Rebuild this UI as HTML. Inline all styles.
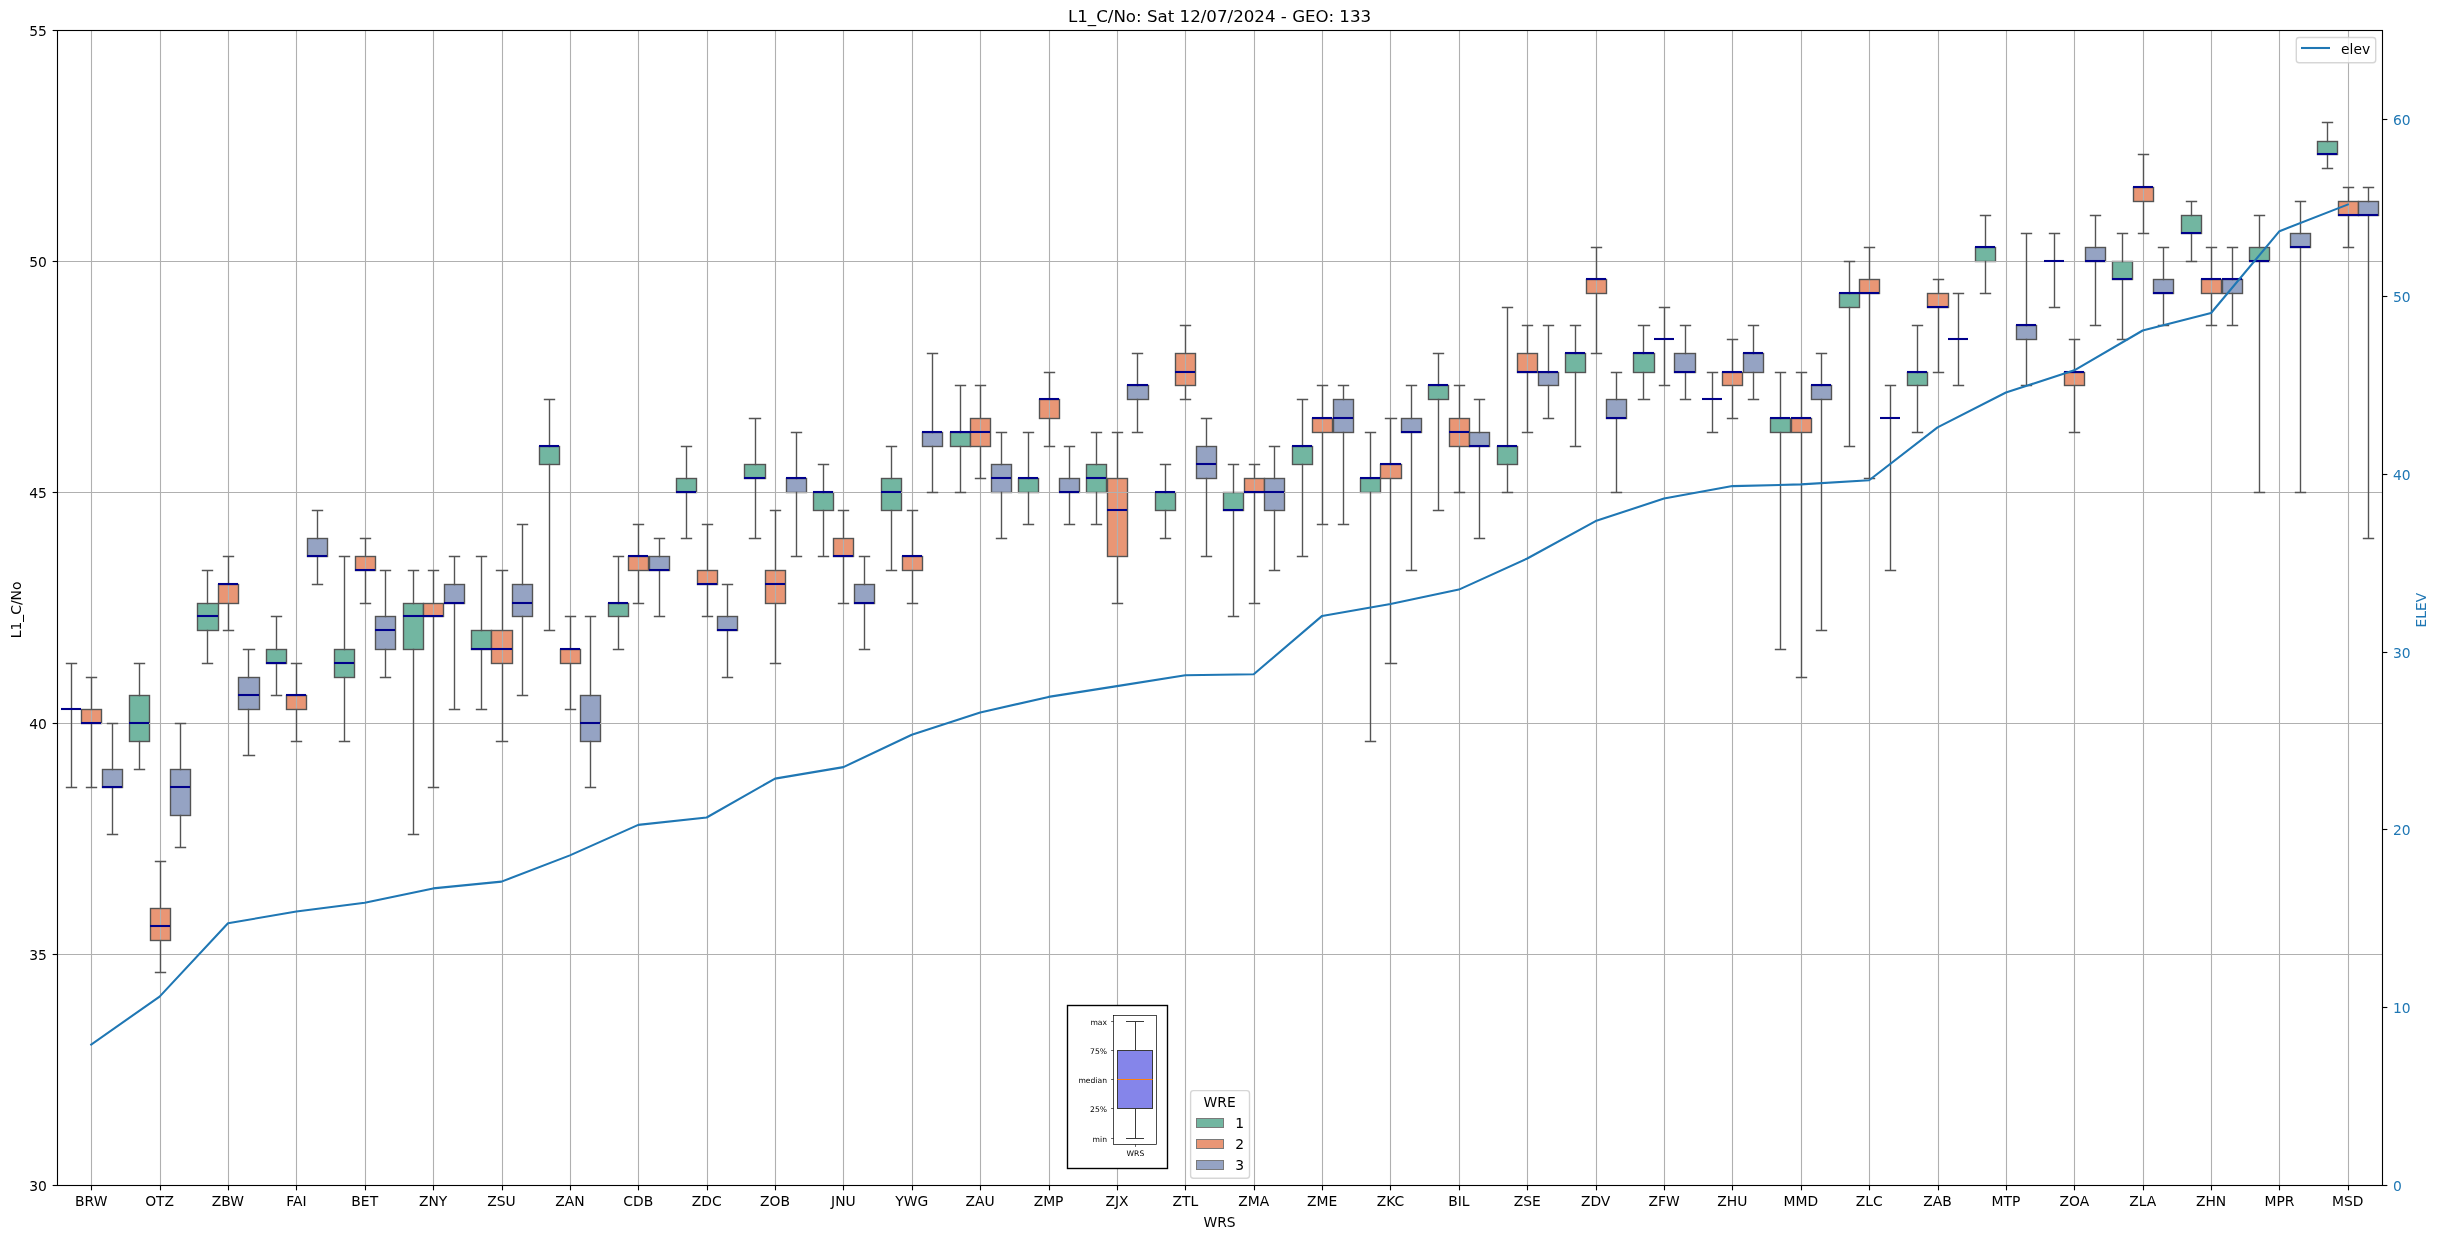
<!DOCTYPE html>
<html lang="en"><head><meta charset="utf-8"><title>L1_C/No: Sat 12/07/2024 - GEO: 133</title>
<style>html,body{margin:0;padding:0;background:#fff;}svg{display:block;will-change:transform;}text{font-family:'DejaVu Sans','Liberation Sans',sans-serif;fill:#000;}</style></head><body>
<svg width="2439" height="1238" viewBox="0 0 2439 1238">
<rect x="0" y="0" width="2439" height="1238" fill="#ffffff"/>
<g stroke="#545454" stroke-width="1.39" stroke-linejoin="miter">
<rect x="81.5" y="709.5" width="20" height="14" fill="#e99675"/>
<rect x="102.5" y="769.5" width="20" height="18" fill="#95a3c3"/>
<rect x="129.5" y="695.5" width="20" height="46" fill="#72b6a1"/>
<rect x="150.5" y="908.5" width="20" height="32" fill="#e99675"/>
<rect x="170.5" y="769.5" width="20" height="46" fill="#95a3c3"/>
<rect x="197.5" y="603.5" width="21" height="27" fill="#72b6a1"/>
<rect x="218.5" y="584.5" width="20" height="19" fill="#e99675"/>
<rect x="238.5" y="677.5" width="21" height="32" fill="#95a3c3"/>
<rect x="266.5" y="649.5" width="20" height="14" fill="#72b6a1"/>
<rect x="286.5" y="695.5" width="20" height="14" fill="#e99675"/>
<rect x="307.5" y="538.5" width="20" height="18" fill="#95a3c3"/>
<rect x="334.5" y="649.5" width="20" height="28" fill="#72b6a1"/>
<rect x="355.5" y="556.5" width="20" height="14" fill="#e99675"/>
<rect x="375.5" y="616.5" width="20" height="33" fill="#95a3c3"/>
<rect x="403.5" y="603.5" width="20" height="46" fill="#72b6a1"/>
<rect x="423.5" y="603.5" width="20" height="13" fill="#e99675"/>
<rect x="444.5" y="584.5" width="20" height="19" fill="#95a3c3"/>
<rect x="471.5" y="630.5" width="20" height="19" fill="#72b6a1"/>
<rect x="491.5" y="630.5" width="21" height="33" fill="#e99675"/>
<rect x="512.5" y="584.5" width="20" height="32" fill="#95a3c3"/>
<rect x="539.5" y="446.5" width="20" height="18" fill="#72b6a1"/>
<rect x="560.5" y="649.5" width="20" height="14" fill="#e99675"/>
<rect x="580.5" y="695.5" width="20" height="46" fill="#95a3c3"/>
<rect x="608.5" y="603.5" width="20" height="13" fill="#72b6a1"/>
<rect x="628.5" y="556.5" width="20" height="14" fill="#e99675"/>
<rect x="649.5" y="556.5" width="20" height="14" fill="#95a3c3"/>
<rect x="676.5" y="478.5" width="20" height="14" fill="#72b6a1"/>
<rect x="697.5" y="570.5" width="20" height="14" fill="#e99675"/>
<rect x="717.5" y="616.5" width="20" height="14" fill="#95a3c3"/>
<rect x="744.5" y="464.5" width="21" height="14" fill="#72b6a1"/>
<rect x="765.5" y="570.5" width="20" height="33" fill="#e99675"/>
<rect x="786.5" y="478.5" width="20" height="14" fill="#95a3c3"/>
<rect x="813.5" y="492.5" width="20" height="18" fill="#72b6a1"/>
<rect x="833.5" y="538.5" width="20" height="18" fill="#e99675"/>
<rect x="854.5" y="584.5" width="20" height="19" fill="#95a3c3"/>
<rect x="881.5" y="478.5" width="20" height="32" fill="#72b6a1"/>
<rect x="902.5" y="556.5" width="20" height="14" fill="#e99675"/>
<rect x="922.5" y="432.5" width="20" height="14" fill="#95a3c3"/>
<rect x="950.5" y="432.5" width="20" height="14" fill="#72b6a1"/>
<rect x="970.5" y="418.5" width="20" height="28" fill="#e99675"/>
<rect x="991.5" y="464.5" width="20" height="28" fill="#95a3c3"/>
<rect x="1018.5" y="478.5" width="20" height="14" fill="#72b6a1"/>
<rect x="1039.5" y="399.5" width="20" height="19" fill="#e99675"/>
<rect x="1059.5" y="478.5" width="20" height="14" fill="#95a3c3"/>
<rect x="1086.5" y="464.5" width="20" height="28" fill="#72b6a1"/>
<rect x="1107.5" y="478.5" width="20" height="78" fill="#e99675"/>
<rect x="1127.5" y="385.5" width="21" height="14" fill="#95a3c3"/>
<rect x="1155.5" y="492.5" width="20" height="18" fill="#72b6a1"/>
<rect x="1175.5" y="353.5" width="20" height="32" fill="#e99675"/>
<rect x="1196.5" y="446.5" width="20" height="32" fill="#95a3c3"/>
<rect x="1223.5" y="492.5" width="20" height="18" fill="#72b6a1"/>
<rect x="1244.5" y="478.5" width="20" height="14" fill="#e99675"/>
<rect x="1264.5" y="478.5" width="20" height="32" fill="#95a3c3"/>
<rect x="1292.5" y="446.5" width="20" height="18" fill="#72b6a1"/>
<rect x="1312.5" y="418.5" width="20" height="14" fill="#e99675"/>
<rect x="1333.5" y="399.5" width="20" height="33" fill="#95a3c3"/>
<rect x="1360.5" y="478.5" width="20" height="14" fill="#72b6a1"/>
<rect x="1380.5" y="464.5" width="21" height="14" fill="#e99675"/>
<rect x="1401.5" y="418.5" width="20" height="14" fill="#95a3c3"/>
<rect x="1428.5" y="385.5" width="20" height="14" fill="#72b6a1"/>
<rect x="1449.5" y="418.5" width="20" height="28" fill="#e99675"/>
<rect x="1469.5" y="432.5" width="20" height="14" fill="#95a3c3"/>
<rect x="1497.5" y="446.5" width="20" height="18" fill="#72b6a1"/>
<rect x="1517.5" y="353.5" width="20" height="19" fill="#e99675"/>
<rect x="1538.5" y="372.5" width="20" height="13" fill="#95a3c3"/>
<rect x="1565.5" y="353.5" width="20" height="19" fill="#72b6a1"/>
<rect x="1586.5" y="279.5" width="20" height="14" fill="#e99675"/>
<rect x="1606.5" y="399.5" width="20" height="19" fill="#95a3c3"/>
<rect x="1633.5" y="353.5" width="21" height="19" fill="#72b6a1"/>
<rect x="1674.5" y="353.5" width="21" height="19" fill="#95a3c3"/>
<rect x="1722.5" y="372.5" width="20" height="13" fill="#e99675"/>
<rect x="1743.5" y="353.5" width="20" height="19" fill="#95a3c3"/>
<rect x="1770.5" y="418.5" width="20" height="14" fill="#72b6a1"/>
<rect x="1791.5" y="418.5" width="20" height="14" fill="#e99675"/>
<rect x="1811.5" y="385.5" width="20" height="14" fill="#95a3c3"/>
<rect x="1839.5" y="293.5" width="20" height="14" fill="#72b6a1"/>
<rect x="1859.5" y="279.5" width="20" height="14" fill="#e99675"/>
<rect x="1907.5" y="372.5" width="20" height="13" fill="#72b6a1"/>
<rect x="1927.5" y="293.5" width="21" height="14" fill="#e99675"/>
<rect x="1975.5" y="247.5" width="20" height="14" fill="#72b6a1"/>
<rect x="2016.5" y="325.5" width="20" height="14" fill="#95a3c3"/>
<rect x="2064.5" y="372.5" width="20" height="13" fill="#e99675"/>
<rect x="2085.5" y="247.5" width="20" height="14" fill="#95a3c3"/>
<rect x="2112.5" y="261.5" width="20" height="18" fill="#72b6a1"/>
<rect x="2133.5" y="187.5" width="20" height="14" fill="#e99675"/>
<rect x="2153.5" y="279.5" width="20" height="14" fill="#95a3c3"/>
<rect x="2181.5" y="215.5" width="20" height="18" fill="#72b6a1"/>
<rect x="2201.5" y="279.5" width="20" height="14" fill="#e99675"/>
<rect x="2222.5" y="279.5" width="20" height="14" fill="#95a3c3"/>
<rect x="2249.5" y="247.5" width="20" height="14" fill="#72b6a1"/>
<rect x="2290.5" y="233.5" width="20" height="14" fill="#95a3c3"/>
<rect x="2317.5" y="141.5" width="20" height="13" fill="#72b6a1"/>
<rect x="2338.5" y="201.5" width="20" height="14" fill="#e99675"/>
<rect x="2358.5" y="201.5" width="20" height="14" fill="#95a3c3"/>
</g>
<g stroke="#b0b0b0" stroke-width="1.11" fill="none">
<line x1="91.5" y1="30.5" x2="91.5" y2="1185.5"/>
<line x1="160.5" y1="30.5" x2="160.5" y2="1185.5"/>
<line x1="228.5" y1="30.5" x2="228.5" y2="1185.5"/>
<line x1="296.5" y1="30.5" x2="296.5" y2="1185.5"/>
<line x1="365.5" y1="30.5" x2="365.5" y2="1185.5"/>
<line x1="433.5" y1="30.5" x2="433.5" y2="1185.5"/>
<line x1="502.5" y1="30.5" x2="502.5" y2="1185.5"/>
<line x1="570.5" y1="30.5" x2="570.5" y2="1185.5"/>
<line x1="638.5" y1="30.5" x2="638.5" y2="1185.5"/>
<line x1="707.5" y1="30.5" x2="707.5" y2="1185.5"/>
<line x1="775.5" y1="30.5" x2="775.5" y2="1185.5"/>
<line x1="843.5" y1="30.5" x2="843.5" y2="1185.5"/>
<line x1="912.5" y1="30.5" x2="912.5" y2="1185.5"/>
<line x1="980.5" y1="30.5" x2="980.5" y2="1185.5"/>
<line x1="1049.5" y1="30.5" x2="1049.5" y2="1185.5"/>
<line x1="1117.5" y1="30.5" x2="1117.5" y2="1185.5"/>
<line x1="1185.5" y1="30.5" x2="1185.5" y2="1185.5"/>
<line x1="1254.5" y1="30.5" x2="1254.5" y2="1185.5"/>
<line x1="1322.5" y1="30.5" x2="1322.5" y2="1185.5"/>
<line x1="1390.5" y1="30.5" x2="1390.5" y2="1185.5"/>
<line x1="1459.5" y1="30.5" x2="1459.5" y2="1185.5"/>
<line x1="1527.5" y1="30.5" x2="1527.5" y2="1185.5"/>
<line x1="1596.5" y1="30.5" x2="1596.5" y2="1185.5"/>
<line x1="1664.5" y1="30.5" x2="1664.5" y2="1185.5"/>
<line x1="1732.5" y1="30.5" x2="1732.5" y2="1185.5"/>
<line x1="1801.5" y1="30.5" x2="1801.5" y2="1185.5"/>
<line x1="1869.5" y1="30.5" x2="1869.5" y2="1185.5"/>
<line x1="1938.5" y1="30.5" x2="1938.5" y2="1185.5"/>
<line x1="2006.5" y1="30.5" x2="2006.5" y2="1185.5"/>
<line x1="2074.5" y1="30.5" x2="2074.5" y2="1185.5"/>
<line x1="2143.5" y1="30.5" x2="2143.5" y2="1185.5"/>
<line x1="2211.5" y1="30.5" x2="2211.5" y2="1185.5"/>
<line x1="2279.5" y1="30.5" x2="2279.5" y2="1185.5"/>
<line x1="2348.5" y1="30.5" x2="2348.5" y2="1185.5"/>
<line x1="57.5" y1="954.5" x2="2382.5" y2="954.5"/>
<line x1="57.5" y1="723.5" x2="2382.5" y2="723.5"/>
<line x1="57.5" y1="492.5" x2="2382.5" y2="492.5"/>
<line x1="57.5" y1="261.5" x2="2382.5" y2="261.5"/>
</g>
<g stroke="#545454" stroke-width="1.39" fill="none" stroke-linecap="square">
<path d="M71.5 663.5V709.5M71.5 709.5V787.5M66.5 663.5H76.5M66.5 787.5H76.5"/>
<path d="M91.5 677.5V709.5M91.5 723.5V787.5M86.5 677.5H96.5M86.5 787.5H96.5"/>
<path d="M112.5 723.5V769.5M112.5 787.5V834.5M107.5 723.5H117.5M107.5 834.5H117.5"/>
<path d="M139.5 663.5V695.5M139.5 741.5V769.5M134.5 663.5H144.5M134.5 769.5H144.5"/>
<path d="M160.5 861.5V908.5M160.5 940.5V972.5M155.5 861.5H165.5M155.5 972.5H165.5"/>
<path d="M180.5 723.5V769.5M180.5 815.5V847.5M175.5 723.5H185.5M175.5 847.5H185.5"/>
<path d="M207.5 570.5V603.5M207.5 630.5V663.5M202.5 570.5H212.5M202.5 663.5H212.5"/>
<path d="M228.5 556.5V584.5M228.5 603.5V630.5M223.5 556.5H233.5M223.5 630.5H233.5"/>
<path d="M248.5 649.5V677.5M248.5 709.5V755.5M243.5 649.5H254.5M243.5 755.5H254.5"/>
<path d="M276.5 616.5V649.5M276.5 663.5V695.5M271.5 616.5H281.5M271.5 695.5H281.5"/>
<path d="M296.5 663.5V695.5M296.5 709.5V741.5M291.5 663.5H301.5M291.5 741.5H301.5"/>
<path d="M317.5 510.5V538.5M317.5 556.5V584.5M312.5 510.5H322.5M312.5 584.5H322.5"/>
<path d="M344.5 556.5V649.5M344.5 677.5V741.5M339.5 556.5H349.5M339.5 741.5H349.5"/>
<path d="M365.5 538.5V556.5M365.5 570.5V603.5M360.5 538.5H370.5M360.5 603.5H370.5"/>
<path d="M385.5 570.5V616.5M385.5 649.5V677.5M380.5 570.5H390.5M380.5 677.5H390.5"/>
<path d="M413.5 570.5V603.5M413.5 649.5V834.5M408.5 570.5H418.5M408.5 834.5H418.5"/>
<path d="M433.5 570.5V603.5M433.5 616.5V787.5M428.5 570.5H438.5M428.5 787.5H438.5"/>
<path d="M454.5 556.5V584.5M454.5 603.5V709.5M449.5 556.5H459.5M449.5 709.5H459.5"/>
<path d="M481.5 556.5V630.5M481.5 649.5V709.5M476.5 556.5H486.5M476.5 709.5H486.5"/>
<path d="M502.5 570.5V630.5M502.5 663.5V741.5M496.5 570.5H507.5M496.5 741.5H507.5"/>
<path d="M522.5 524.5V584.5M522.5 616.5V695.5M517.5 524.5H527.5M517.5 695.5H527.5"/>
<path d="M549.5 399.5V446.5M549.5 464.5V630.5M544.5 399.5H554.5M544.5 630.5H554.5"/>
<path d="M570.5 616.5V649.5M570.5 663.5V709.5M565.5 616.5H575.5M565.5 709.5H575.5"/>
<path d="M590.5 616.5V695.5M590.5 741.5V787.5M585.5 616.5H595.5M585.5 787.5H595.5"/>
<path d="M618.5 556.5V603.5M618.5 616.5V649.5M613.5 556.5H623.5M613.5 649.5H623.5"/>
<path d="M638.5 524.5V556.5M638.5 570.5V603.5M633.5 524.5H643.5M633.5 603.5H643.5"/>
<path d="M659.5 538.5V556.5M659.5 570.5V616.5M654.5 538.5H664.5M654.5 616.5H664.5"/>
<path d="M686.5 446.5V478.5M686.5 492.5V538.5M681.5 446.5H691.5M681.5 538.5H691.5"/>
<path d="M707.5 524.5V570.5M707.5 584.5V616.5M702.5 524.5H712.5M702.5 616.5H712.5"/>
<path d="M727.5 584.5V616.5M727.5 630.5V677.5M722.5 584.5H732.5M722.5 677.5H732.5"/>
<path d="M755.5 418.5V464.5M755.5 478.5V538.5M749.5 418.5H760.5M749.5 538.5H760.5"/>
<path d="M775.5 510.5V570.5M775.5 603.5V663.5M770.5 510.5H780.5M770.5 663.5H780.5"/>
<path d="M796.5 432.5V478.5M796.5 492.5V556.5M791.5 432.5H801.5M791.5 556.5H801.5"/>
<path d="M823.5 464.5V492.5M823.5 510.5V556.5M818.5 464.5H828.5M818.5 556.5H828.5"/>
<path d="M843.5 510.5V538.5M843.5 556.5V603.5M838.5 510.5H848.5M838.5 603.5H848.5"/>
<path d="M864.5 556.5V584.5M864.5 603.5V649.5M859.5 556.5H869.5M859.5 649.5H869.5"/>
<path d="M891.5 446.5V478.5M891.5 510.5V570.5M886.5 446.5H896.5M886.5 570.5H896.5"/>
<path d="M912.5 510.5V556.5M912.5 570.5V603.5M907.5 510.5H917.5M907.5 603.5H917.5"/>
<path d="M932.5 353.5V432.5M932.5 446.5V492.5M927.5 353.5H937.5M927.5 492.5H937.5"/>
<path d="M960.5 385.5V432.5M960.5 446.5V492.5M955.5 385.5H965.5M955.5 492.5H965.5"/>
<path d="M980.5 385.5V418.5M980.5 446.5V478.5M975.5 385.5H985.5M975.5 478.5H985.5"/>
<path d="M1001.5 432.5V464.5M1001.5 492.5V538.5M996.5 432.5H1006.5M996.5 538.5H1006.5"/>
<path d="M1028.5 432.5V478.5M1028.5 492.5V524.5M1023.5 432.5H1033.5M1023.5 524.5H1033.5"/>
<path d="M1049.5 372.5V399.5M1049.5 418.5V446.5M1044.5 372.5H1054.5M1044.5 446.5H1054.5"/>
<path d="M1069.5 446.5V478.5M1069.5 492.5V524.5M1064.5 446.5H1074.5M1064.5 524.5H1074.5"/>
<path d="M1096.5 432.5V464.5M1096.5 492.5V524.5M1091.5 432.5H1101.5M1091.5 524.5H1101.5"/>
<path d="M1117.5 432.5V478.5M1117.5 556.5V603.5M1112.5 432.5H1122.5M1112.5 603.5H1122.5"/>
<path d="M1137.5 353.5V385.5M1137.5 399.5V432.5M1132.5 353.5H1142.5M1132.5 432.5H1142.5"/>
<path d="M1165.5 464.5V492.5M1165.5 510.5V538.5M1160.5 464.5H1170.5M1160.5 538.5H1170.5"/>
<path d="M1185.5 325.5V353.5M1185.5 385.5V399.5M1180.5 325.5H1190.5M1180.5 399.5H1190.5"/>
<path d="M1206.5 418.5V446.5M1206.5 478.5V556.5M1201.5 418.5H1211.5M1201.5 556.5H1211.5"/>
<path d="M1233.5 464.5V492.5M1233.5 510.5V616.5M1228.5 464.5H1238.5M1228.5 616.5H1238.5"/>
<path d="M1254.5 464.5V478.5M1254.5 492.5V603.5M1249.5 464.5H1259.5M1249.5 603.5H1259.5"/>
<path d="M1274.5 446.5V478.5M1274.5 510.5V570.5M1269.5 446.5H1279.5M1269.5 570.5H1279.5"/>
<path d="M1302.5 399.5V446.5M1302.5 464.5V556.5M1297.5 399.5H1307.5M1297.5 556.5H1307.5"/>
<path d="M1322.5 385.5V418.5M1322.5 432.5V524.5M1317.5 385.5H1327.5M1317.5 524.5H1327.5"/>
<path d="M1343.5 385.5V399.5M1343.5 432.5V524.5M1338.5 385.5H1348.5M1338.5 524.5H1348.5"/>
<path d="M1370.5 432.5V478.5M1370.5 492.5V741.5M1365.5 432.5H1375.5M1365.5 741.5H1375.5"/>
<path d="M1390.5 418.5V464.5M1390.5 478.5V663.5M1385.5 418.5H1396.5M1385.5 663.5H1396.5"/>
<path d="M1411.5 385.5V418.5M1411.5 432.5V570.5M1406.5 385.5H1416.5M1406.5 570.5H1416.5"/>
<path d="M1438.5 353.5V385.5M1438.5 399.5V510.5M1433.5 353.5H1443.5M1433.5 510.5H1443.5"/>
<path d="M1459.5 385.5V418.5M1459.5 446.5V492.5M1454.5 385.5H1464.5M1454.5 492.5H1464.5"/>
<path d="M1479.5 399.5V432.5M1479.5 446.5V538.5M1474.5 399.5H1484.5M1474.5 538.5H1484.5"/>
<path d="M1507.5 307.5V446.5M1507.5 464.5V492.5M1502.5 307.5H1512.5M1502.5 492.5H1512.5"/>
<path d="M1527.5 325.5V353.5M1527.5 372.5V432.5M1522.5 325.5H1532.5M1522.5 432.5H1532.5"/>
<path d="M1548.5 325.5V372.5M1548.5 385.5V418.5M1543.5 325.5H1553.5M1543.5 418.5H1553.5"/>
<path d="M1575.5 325.5V353.5M1575.5 372.5V446.5M1570.5 325.5H1580.5M1570.5 446.5H1580.5"/>
<path d="M1596.5 247.5V279.5M1596.5 293.5V353.5M1591.5 247.5H1601.5M1591.5 353.5H1601.5"/>
<path d="M1616.5 372.5V399.5M1616.5 418.5V492.5M1611.5 372.5H1621.5M1611.5 492.5H1621.5"/>
<path d="M1643.5 325.5V353.5M1643.5 372.5V399.5M1638.5 325.5H1649.5M1638.5 399.5H1649.5"/>
<path d="M1664.5 307.5V339.5M1664.5 339.5V385.5M1659.5 307.5H1669.5M1659.5 385.5H1669.5"/>
<path d="M1685.5 325.5V353.5M1685.5 372.5V399.5M1680.5 325.5H1690.5M1680.5 399.5H1690.5"/>
<path d="M1712.5 372.5V399.5M1712.5 399.5V432.5M1707.5 372.5H1717.5M1707.5 432.5H1717.5"/>
<path d="M1732.5 339.5V372.5M1732.5 385.5V418.5M1727.5 339.5H1737.5M1727.5 418.5H1737.5"/>
<path d="M1753.5 325.5V353.5M1753.5 372.5V399.5M1748.5 325.5H1758.5M1748.5 399.5H1758.5"/>
<path d="M1780.5 372.5V418.5M1780.5 432.5V649.5M1775.5 372.5H1785.5M1775.5 649.5H1785.5"/>
<path d="M1801.5 372.5V418.5M1801.5 432.5V677.5M1796.5 372.5H1806.5M1796.5 677.5H1806.5"/>
<path d="M1821.5 353.5V385.5M1821.5 399.5V630.5M1816.5 353.5H1826.5M1816.5 630.5H1826.5"/>
<path d="M1849.5 261.5V293.5M1849.5 307.5V446.5M1844.5 261.5H1854.5M1844.5 446.5H1854.5"/>
<path d="M1869.5 247.5V279.5M1869.5 293.5V478.5M1864.5 247.5H1874.5M1864.5 478.5H1874.5"/>
<path d="M1890.5 385.5V418.5M1890.5 418.5V570.5M1885.5 385.5H1895.5M1885.5 570.5H1895.5"/>
<path d="M1917.5 325.5V372.5M1917.5 385.5V432.5M1912.5 325.5H1922.5M1912.5 432.5H1922.5"/>
<path d="M1938.5 279.5V293.5M1938.5 307.5V372.5M1933.5 279.5H1943.5M1933.5 372.5H1943.5"/>
<path d="M1958.5 293.5V339.5M1958.5 339.5V385.5M1953.5 293.5H1963.5M1953.5 385.5H1963.5"/>
<path d="M1985.5 215.5V247.5M1985.5 261.5V293.5M1980.5 215.5H1990.5M1980.5 293.5H1990.5"/>
<path d="M2026.5 233.5V325.5M2026.5 339.5V385.5M2021.5 233.5H2031.5M2021.5 385.5H2031.5"/>
<path d="M2054.5 233.5V261.5M2054.5 261.5V307.5M2049.5 233.5H2059.5M2049.5 307.5H2059.5"/>
<path d="M2074.5 339.5V372.5M2074.5 385.5V432.5M2069.5 339.5H2079.5M2069.5 432.5H2079.5"/>
<path d="M2095.5 215.5V247.5M2095.5 261.5V325.5M2090.5 215.5H2100.5M2090.5 325.5H2100.5"/>
<path d="M2122.5 233.5V261.5M2122.5 279.5V339.5M2117.5 233.5H2127.5M2117.5 339.5H2127.5"/>
<path d="M2143.5 154.5V187.5M2143.5 201.5V233.5M2138.5 154.5H2148.5M2138.5 233.5H2148.5"/>
<path d="M2163.5 247.5V279.5M2163.5 293.5V325.5M2158.5 247.5H2168.5M2158.5 325.5H2168.5"/>
<path d="M2191.5 201.5V215.5M2191.5 233.5V261.5M2186.5 201.5H2196.5M2186.5 261.5H2196.5"/>
<path d="M2211.5 247.5V279.5M2211.5 293.5V325.5M2206.5 247.5H2216.5M2206.5 325.5H2216.5"/>
<path d="M2232.5 247.5V279.5M2232.5 293.5V325.5M2227.5 247.5H2237.5M2227.5 325.5H2237.5"/>
<path d="M2259.5 215.5V247.5M2259.5 261.5V492.5M2254.5 215.5H2264.5M2254.5 492.5H2264.5"/>
<path d="M2300.5 201.5V233.5M2300.5 247.5V492.5M2295.5 201.5H2305.5M2295.5 492.5H2305.5"/>
<path d="M2327.5 122.5V141.5M2327.5 154.5V168.5M2322.5 122.5H2332.5M2322.5 168.5H2332.5"/>
<path d="M2348.5 187.5V201.5M2348.5 215.5V247.5M2343.5 187.5H2353.5M2343.5 247.5H2353.5"/>
<path d="M2368.5 187.5V201.5M2368.5 215.5V538.5M2363.5 187.5H2373.5M2363.5 538.5H2373.5"/>
</g>
<g stroke="#00008b" stroke-width="2.08" fill="none">
<line x1="61" y1="709" x2="81" y2="709"/>
<line x1="81" y1="723" x2="101" y2="723"/>
<line x1="102" y1="787" x2="122" y2="787"/>
<line x1="129" y1="723" x2="149" y2="723"/>
<line x1="150" y1="926" x2="170" y2="926"/>
<line x1="170" y1="787" x2="190" y2="787"/>
<line x1="197" y1="616" x2="218" y2="616"/>
<line x1="218" y1="584" x2="238" y2="584"/>
<line x1="238" y1="695" x2="259" y2="695"/>
<line x1="266" y1="663" x2="286" y2="663"/>
<line x1="286" y1="695" x2="306" y2="695"/>
<line x1="307" y1="556" x2="327" y2="556"/>
<line x1="334" y1="663" x2="354" y2="663"/>
<line x1="355" y1="570" x2="375" y2="570"/>
<line x1="375" y1="630" x2="395" y2="630"/>
<line x1="403" y1="616" x2="423" y2="616"/>
<line x1="423" y1="616" x2="443" y2="616"/>
<line x1="444" y1="603" x2="464" y2="603"/>
<line x1="471" y1="649" x2="491" y2="649"/>
<line x1="491" y1="649" x2="512" y2="649"/>
<line x1="512" y1="603" x2="532" y2="603"/>
<line x1="539" y1="446" x2="559" y2="446"/>
<line x1="560" y1="649" x2="580" y2="649"/>
<line x1="580" y1="723" x2="600" y2="723"/>
<line x1="608" y1="603" x2="628" y2="603"/>
<line x1="628" y1="556" x2="648" y2="556"/>
<line x1="649" y1="570" x2="669" y2="570"/>
<line x1="676" y1="492" x2="696" y2="492"/>
<line x1="697" y1="584" x2="717" y2="584"/>
<line x1="717" y1="630" x2="737" y2="630"/>
<line x1="744" y1="478" x2="765" y2="478"/>
<line x1="765" y1="584" x2="785" y2="584"/>
<line x1="786" y1="478" x2="806" y2="478"/>
<line x1="813" y1="492" x2="833" y2="492"/>
<line x1="833" y1="556" x2="853" y2="556"/>
<line x1="854" y1="603" x2="874" y2="603"/>
<line x1="881" y1="492" x2="901" y2="492"/>
<line x1="902" y1="556" x2="922" y2="556"/>
<line x1="922" y1="432" x2="942" y2="432"/>
<line x1="950" y1="432" x2="970" y2="432"/>
<line x1="970" y1="432" x2="990" y2="432"/>
<line x1="991" y1="478" x2="1011" y2="478"/>
<line x1="1018" y1="478" x2="1038" y2="478"/>
<line x1="1039" y1="399" x2="1059" y2="399"/>
<line x1="1059" y1="492" x2="1079" y2="492"/>
<line x1="1086" y1="478" x2="1106" y2="478"/>
<line x1="1107" y1="510" x2="1127" y2="510"/>
<line x1="1127" y1="385" x2="1148" y2="385"/>
<line x1="1155" y1="492" x2="1175" y2="492"/>
<line x1="1175" y1="372" x2="1195" y2="372"/>
<line x1="1196" y1="464" x2="1216" y2="464"/>
<line x1="1223" y1="510" x2="1243" y2="510"/>
<line x1="1244" y1="492" x2="1264" y2="492"/>
<line x1="1264" y1="492" x2="1284" y2="492"/>
<line x1="1292" y1="446" x2="1312" y2="446"/>
<line x1="1312" y1="418" x2="1332" y2="418"/>
<line x1="1333" y1="418" x2="1353" y2="418"/>
<line x1="1360" y1="478" x2="1380" y2="478"/>
<line x1="1380" y1="464" x2="1401" y2="464"/>
<line x1="1401" y1="432" x2="1421" y2="432"/>
<line x1="1428" y1="385" x2="1448" y2="385"/>
<line x1="1449" y1="432" x2="1469" y2="432"/>
<line x1="1469" y1="446" x2="1489" y2="446"/>
<line x1="1497" y1="446" x2="1517" y2="446"/>
<line x1="1517" y1="372" x2="1537" y2="372"/>
<line x1="1538" y1="372" x2="1558" y2="372"/>
<line x1="1565" y1="353" x2="1585" y2="353"/>
<line x1="1586" y1="279" x2="1606" y2="279"/>
<line x1="1606" y1="418" x2="1626" y2="418"/>
<line x1="1633" y1="353" x2="1654" y2="353"/>
<line x1="1654" y1="339" x2="1674" y2="339"/>
<line x1="1674" y1="372" x2="1695" y2="372"/>
<line x1="1702" y1="399" x2="1722" y2="399"/>
<line x1="1722" y1="372" x2="1742" y2="372"/>
<line x1="1743" y1="353" x2="1763" y2="353"/>
<line x1="1770" y1="418" x2="1790" y2="418"/>
<line x1="1791" y1="418" x2="1811" y2="418"/>
<line x1="1811" y1="385" x2="1831" y2="385"/>
<line x1="1839" y1="293" x2="1859" y2="293"/>
<line x1="1859" y1="293" x2="1879" y2="293"/>
<line x1="1880" y1="418" x2="1900" y2="418"/>
<line x1="1907" y1="372" x2="1927" y2="372"/>
<line x1="1927" y1="307" x2="1948" y2="307"/>
<line x1="1948" y1="339" x2="1968" y2="339"/>
<line x1="1975" y1="247" x2="1995" y2="247"/>
<line x1="2016" y1="325" x2="2036" y2="325"/>
<line x1="2044" y1="261" x2="2064" y2="261"/>
<line x1="2064" y1="372" x2="2084" y2="372"/>
<line x1="2085" y1="261" x2="2105" y2="261"/>
<line x1="2112" y1="279" x2="2132" y2="279"/>
<line x1="2133" y1="187" x2="2153" y2="187"/>
<line x1="2153" y1="293" x2="2173" y2="293"/>
<line x1="2181" y1="233" x2="2201" y2="233"/>
<line x1="2201" y1="279" x2="2221" y2="279"/>
<line x1="2222" y1="279" x2="2242" y2="279"/>
<line x1="2249" y1="261" x2="2269" y2="261"/>
<line x1="2290" y1="247" x2="2310" y2="247"/>
<line x1="2317" y1="154" x2="2337" y2="154"/>
<line x1="2338" y1="215" x2="2358" y2="215"/>
<line x1="2358" y1="215" x2="2378" y2="215"/>
</g>
<rect x="1190.6" y="1090.6" width="58.9" height="87.7" rx="2.8" ry="2.8" fill="#ffffff" fill-opacity="0.8" stroke="#cccccc" stroke-opacity="0.8" stroke-width="1.39"/>
<text x="1219.6" y="1107.3" font-size="13.89" text-anchor="middle">WRE</text>
<rect x="1196.5" y="1118.5" width="27" height="9" fill="#72b6a1" stroke="#7a7a7a" stroke-width="1"/>
<text x="1235.2" y="1128.4" font-size="13.89">1</text>
<rect x="1196.5" y="1139.5" width="27" height="9" fill="#e99675" stroke="#7a7a7a" stroke-width="1"/>
<text x="1235.2" y="1149.4" font-size="13.89">2</text>
<rect x="1196.5" y="1160.5" width="27" height="9" fill="#95a3c3" stroke="#7a7a7a" stroke-width="1"/>
<text x="1235.2" y="1170.4" font-size="13.89">3</text>
<g stroke="#000" stroke-width="1.11" fill="none">
<line x1="91.5" y1="1185.5" x2="91.5" y2="1190.36"/>
<line x1="160.5" y1="1185.5" x2="160.5" y2="1190.36"/>
<line x1="228.5" y1="1185.5" x2="228.5" y2="1190.36"/>
<line x1="296.5" y1="1185.5" x2="296.5" y2="1190.36"/>
<line x1="365.5" y1="1185.5" x2="365.5" y2="1190.36"/>
<line x1="433.5" y1="1185.5" x2="433.5" y2="1190.36"/>
<line x1="502.5" y1="1185.5" x2="502.5" y2="1190.36"/>
<line x1="570.5" y1="1185.5" x2="570.5" y2="1190.36"/>
<line x1="638.5" y1="1185.5" x2="638.5" y2="1190.36"/>
<line x1="707.5" y1="1185.5" x2="707.5" y2="1190.36"/>
<line x1="775.5" y1="1185.5" x2="775.5" y2="1190.36"/>
<line x1="843.5" y1="1185.5" x2="843.5" y2="1190.36"/>
<line x1="912.5" y1="1185.5" x2="912.5" y2="1190.36"/>
<line x1="980.5" y1="1185.5" x2="980.5" y2="1190.36"/>
<line x1="1049.5" y1="1185.5" x2="1049.5" y2="1190.36"/>
<line x1="1117.5" y1="1185.5" x2="1117.5" y2="1190.36"/>
<line x1="1185.5" y1="1185.5" x2="1185.5" y2="1190.36"/>
<line x1="1254.5" y1="1185.5" x2="1254.5" y2="1190.36"/>
<line x1="1322.5" y1="1185.5" x2="1322.5" y2="1190.36"/>
<line x1="1390.5" y1="1185.5" x2="1390.5" y2="1190.36"/>
<line x1="1459.5" y1="1185.5" x2="1459.5" y2="1190.36"/>
<line x1="1527.5" y1="1185.5" x2="1527.5" y2="1190.36"/>
<line x1="1596.5" y1="1185.5" x2="1596.5" y2="1190.36"/>
<line x1="1664.5" y1="1185.5" x2="1664.5" y2="1190.36"/>
<line x1="1732.5" y1="1185.5" x2="1732.5" y2="1190.36"/>
<line x1="1801.5" y1="1185.5" x2="1801.5" y2="1190.36"/>
<line x1="1869.5" y1="1185.5" x2="1869.5" y2="1190.36"/>
<line x1="1938.5" y1="1185.5" x2="1938.5" y2="1190.36"/>
<line x1="2006.5" y1="1185.5" x2="2006.5" y2="1190.36"/>
<line x1="2074.5" y1="1185.5" x2="2074.5" y2="1190.36"/>
<line x1="2143.5" y1="1185.5" x2="2143.5" y2="1190.36"/>
<line x1="2211.5" y1="1185.5" x2="2211.5" y2="1190.36"/>
<line x1="2279.5" y1="1185.5" x2="2279.5" y2="1190.36"/>
<line x1="2348.5" y1="1185.5" x2="2348.5" y2="1190.36"/>
<line x1="52.64" y1="1185.5" x2="57.5" y2="1185.5"/>
<line x1="52.64" y1="954.5" x2="57.5" y2="954.5"/>
<line x1="52.64" y1="723.5" x2="57.5" y2="723.5"/>
<line x1="52.64" y1="492.5" x2="57.5" y2="492.5"/>
<line x1="52.64" y1="261.5" x2="57.5" y2="261.5"/>
<line x1="52.64" y1="30.5" x2="57.5" y2="30.5"/>
</g>
<text x="91.21" y="1206.3" font-size="13.89" text-anchor="middle">BRW</text>
<text x="159.6" y="1206.3" font-size="13.89" text-anchor="middle">OTZ</text>
<text x="227.98" y="1206.3" font-size="13.89" text-anchor="middle">ZBW</text>
<text x="296.36" y="1206.3" font-size="13.89" text-anchor="middle">FAI</text>
<text x="364.74" y="1206.3" font-size="13.89" text-anchor="middle">BET</text>
<text x="433.13" y="1206.3" font-size="13.89" text-anchor="middle">ZNY</text>
<text x="501.51" y="1206.3" font-size="13.89" text-anchor="middle">ZSU</text>
<text x="569.89" y="1206.3" font-size="13.89" text-anchor="middle">ZAN</text>
<text x="638.27" y="1206.3" font-size="13.89" text-anchor="middle">CDB</text>
<text x="706.66" y="1206.3" font-size="13.89" text-anchor="middle">ZDC</text>
<text x="775.04" y="1206.3" font-size="13.89" text-anchor="middle">ZOB</text>
<text x="843.42" y="1206.3" font-size="13.89" text-anchor="middle">JNU</text>
<text x="911.8" y="1206.3" font-size="13.89" text-anchor="middle">YWG</text>
<text x="980.19" y="1206.3" font-size="13.89" text-anchor="middle">ZAU</text>
<text x="1048.57" y="1206.3" font-size="13.89" text-anchor="middle">ZMP</text>
<text x="1116.95" y="1206.3" font-size="13.89" text-anchor="middle">ZJX</text>
<text x="1185.33" y="1206.3" font-size="13.89" text-anchor="middle">ZTL</text>
<text x="1253.72" y="1206.3" font-size="13.89" text-anchor="middle">ZMA</text>
<text x="1322.1" y="1206.3" font-size="13.89" text-anchor="middle">ZME</text>
<text x="1390.48" y="1206.3" font-size="13.89" text-anchor="middle">ZKC</text>
<text x="1458.87" y="1206.3" font-size="13.89" text-anchor="middle">BIL</text>
<text x="1527.25" y="1206.3" font-size="13.89" text-anchor="middle">ZSE</text>
<text x="1595.63" y="1206.3" font-size="13.89" text-anchor="middle">ZDV</text>
<text x="1664.01" y="1206.3" font-size="13.89" text-anchor="middle">ZFW</text>
<text x="1732.4" y="1206.3" font-size="13.89" text-anchor="middle">ZHU</text>
<text x="1800.78" y="1206.3" font-size="13.89" text-anchor="middle">MMD</text>
<text x="1869.16" y="1206.3" font-size="13.89" text-anchor="middle">ZLC</text>
<text x="1937.54" y="1206.3" font-size="13.89" text-anchor="middle">ZAB</text>
<text x="2005.93" y="1206.3" font-size="13.89" text-anchor="middle">MTP</text>
<text x="2074.31" y="1206.3" font-size="13.89" text-anchor="middle">ZOA</text>
<text x="2142.69" y="1206.3" font-size="13.89" text-anchor="middle">ZLA</text>
<text x="2211.07" y="1206.3" font-size="13.89" text-anchor="middle">ZHN</text>
<text x="2279.46" y="1206.3" font-size="13.89" text-anchor="middle">MPR</text>
<text x="2347.84" y="1206.3" font-size="13.89" text-anchor="middle">MSD</text>
<text x="46.8" y="1191.2" font-size="13.89" text-anchor="end">30</text>
<text x="46.8" y="960.2" font-size="13.89" text-anchor="end">35</text>
<text x="46.8" y="729.2" font-size="13.89" text-anchor="end">40</text>
<text x="46.8" y="498.2" font-size="13.89" text-anchor="end">45</text>
<text x="46.8" y="267.2" font-size="13.89" text-anchor="end">50</text>
<text x="46.8" y="36.2" font-size="13.89" text-anchor="end">55</text>
<text x="1219.53" y="1226.5" font-size="13.89" text-anchor="middle">WRS</text>
<text transform="translate(21 609.93) rotate(-90)" font-size="13.89" text-anchor="middle">L1_C/No</text>
<text x="1219.53" y="22.1" font-size="16.67" text-anchor="middle">L1_C/No: Sat 12/07/2024 - GEO: 133</text>
<polyline points="91.21,1044.5 159.6,996.6 227.98,923.3 296.36,911.5 364.74,902.7 433.13,888.4 501.51,881.6 569.89,855.4 638.27,824.9 706.66,817.5 775.04,778.6 843.42,767.1 911.8,734.8 980.19,712.6 1048.57,696.9 1116.95,686.1 1185.33,675.3 1253.72,674.3 1322.1,615.9 1390.48,604.1 1458.87,589.6 1527.25,558.5 1595.63,521.1 1664.01,498.5 1732.4,486.1 1800.78,484.4 1869.16,480.3 1937.54,427.4 2005.93,392.5 2074.31,370.3 2142.69,330.5 2211.07,313 2279.46,231.2 2347.84,204.5" fill="none" stroke="#1f77b4" stroke-width="2.08" stroke-linejoin="round" stroke-linecap="square"/>
<rect x="57.5" y="30.5" width="2325" height="1155" fill="none" stroke="#000" stroke-width="1.11"/>
<g stroke="#000" stroke-width="1.11" fill="none">
<line x1="2382.5" y1="1185.5" x2="2387.36" y2="1185.5"/>
<line x1="2382.5" y1="1007.5" x2="2387.36" y2="1007.5"/>
<line x1="2382.5" y1="829.5" x2="2387.36" y2="829.5"/>
<line x1="2382.5" y1="652.5" x2="2387.36" y2="652.5"/>
<line x1="2382.5" y1="474.5" x2="2387.36" y2="474.5"/>
<line x1="2382.5" y1="296.5" x2="2387.36" y2="296.5"/>
<line x1="2382.5" y1="119.5" x2="2387.36" y2="119.5"/>
</g>
<text x="2393" y="1191.2" font-size="13.89" style="fill:#1f77b4">0</text>
<text x="2393" y="1013.2" font-size="13.89" style="fill:#1f77b4">10</text>
<text x="2393" y="835.2" font-size="13.89" style="fill:#1f77b4">20</text>
<text x="2393" y="658.2" font-size="13.89" style="fill:#1f77b4">30</text>
<text x="2393" y="480.2" font-size="13.89" style="fill:#1f77b4">40</text>
<text x="2393" y="302.2" font-size="13.89" style="fill:#1f77b4">50</text>
<text x="2393" y="125.2" font-size="13.89" style="fill:#1f77b4">60</text>
<text transform="translate(2425.5 610.13) rotate(-90)" font-size="13.89" text-anchor="middle" style="fill:#1f77b4">ELEV</text>
<rect x="2296.3" y="37.5" width="79.4" height="25.2" rx="2.8" ry="2.8" fill="#ffffff" fill-opacity="0.8" stroke="#cccccc" stroke-opacity="0.8" stroke-width="1.39"/>
<line x1="2301" y1="48" x2="2330" y2="48" stroke="#1f77b4" stroke-width="2.08"/>
<text x="2341" y="53.8" font-size="13.89">elev</text>
<rect x="1067.5" y="1005.5" width="100" height="163" fill="#ffffff" stroke="#000" stroke-width="1.39"/>
<rect x="1113.5" y="1015.5" width="43" height="129" fill="#ffffff" stroke="#000" stroke-width="0.7"/>
<rect x="1117.5" y="1050.5" width="35" height="58" fill="#8585ea" stroke="#3a3a3a" stroke-width="1"/>
<path d="M1135.5 1021.5V1050.5M1135.5 1108.5V1138.5M1126 1021.5H1144M1126 1138.5H1144" stroke="#3a3a3a" stroke-width="1" fill="none"/>
<line x1="1117.5" y1="1079.5" x2="1152.5" y2="1079.5" stroke="#ff7f0e" stroke-width="1"/>
<g stroke="#000" stroke-width="0.6" fill="none">
<line x1="1111.1" y1="1021.5" x2="1113.5" y2="1021.5"/>
<line x1="1111.1" y1="1050.5" x2="1113.5" y2="1050.5"/>
<line x1="1111.1" y1="1079.5" x2="1113.5" y2="1079.5"/>
<line x1="1111.1" y1="1108.5" x2="1113.5" y2="1108.5"/>
<line x1="1111.1" y1="1138.5" x2="1113.5" y2="1138.5"/>
<line x1="1135.5" y1="1144.5" x2="1135.5" y2="1146.9"/>
</g>
<text x="1107" y="1024.5" font-size="7.64" text-anchor="end">max</text>
<text x="1107" y="1053.5" font-size="7.64" text-anchor="end">75%</text>
<text x="1107" y="1082.5" font-size="7.64" text-anchor="end">median</text>
<text x="1107" y="1111.5" font-size="7.64" text-anchor="end">25%</text>
<text x="1107" y="1141.5" font-size="7.64" text-anchor="end">min</text>
<text x="1135.4" y="1156.1" font-size="7.64" text-anchor="middle">WRS</text>
</svg></body></html>
